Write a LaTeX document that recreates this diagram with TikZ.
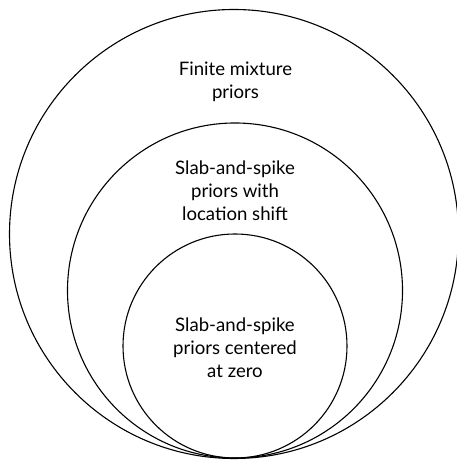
\documentclass[tikz,border=0pt]{standalone}
\usepackage{fontspec}
\setmainfont{Lato}
\begin{document}
\begin{tikzpicture}[x=1pt,y=1pt,
  ring/.style={draw=black,line width=1.1pt},
  lbl/.style={align=center,font=\fontsize{18.6}{23}\selectfont,inner sep=0pt}]
\useasboundingbox (0,0) rectangle (457,460);
\draw[ring] (234,226) circle[radius=224.5];
\draw[ring] (235,169.5) circle[radius=167.5];
\draw[ring] (235,114) circle[radius=112];
\node[lbl] (outer) at (235.5,378) {Finite mixture\\priors};
\node[lbl] (middle) at (235,269) {Slab-and-spike\\priors with\\location shift};
\node[lbl] (inner) at (235,112) {Slab-and-spike\\priors centered\\at zero};
\end{tikzpicture}
\end{document}
